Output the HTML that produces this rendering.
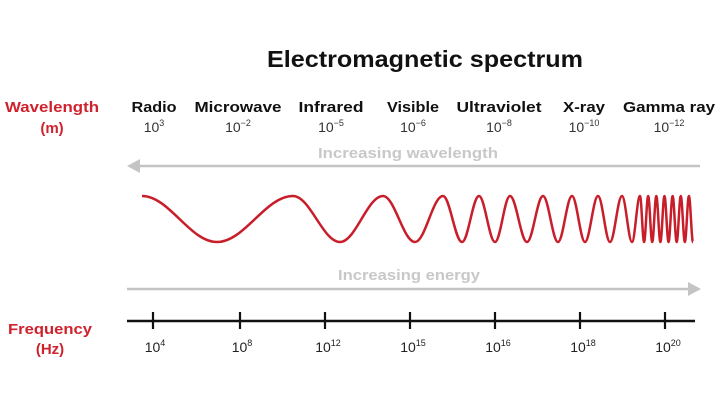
<!DOCTYPE html>
<html><head><meta charset="utf-8"><style>
html,body{margin:0;padding:0;background:#fff;}
svg{display:block;}
text{font-family:"Liberation Sans",sans-serif;}
</style></head><body>
<svg width="720" height="404" viewBox="0 0 720 404" xmlns="http://www.w3.org/2000/svg">
<rect width="720" height="404" fill="#fff"/>
<!-- Title -->
<text x="425" y="67" text-anchor="middle" font-size="23" font-weight="bold" fill="#111" textLength="316" lengthAdjust="spacingAndGlyphs">Electromagnetic spectrum</text>

<!-- Left labels -->
<g fill="#d0222d" font-weight="bold" font-size="15" text-anchor="middle">
<text x="52" y="112" textLength="94" lengthAdjust="spacingAndGlyphs">Wavelength</text>
<text x="52" y="133">(m)</text>
<text x="50" y="334" textLength="84" lengthAdjust="spacingAndGlyphs">Frequency</text>
<text x="50" y="354">(Hz)</text>
</g>

<!-- Band names -->
<g fill="#111" font-weight="bold" font-size="15" text-anchor="middle">
<text x="154" y="112" textLength="45" lengthAdjust="spacingAndGlyphs">Radio</text>
<text x="238" y="112" textLength="87" lengthAdjust="spacingAndGlyphs">Microwave</text>
<text x="331" y="112" textLength="65" lengthAdjust="spacingAndGlyphs">Infrared</text>
<text x="413" y="112" textLength="52" lengthAdjust="spacingAndGlyphs">Visible</text>
<text x="499" y="112" textLength="85" lengthAdjust="spacingAndGlyphs">Ultraviolet</text>
<text x="584" y="112" textLength="42" lengthAdjust="spacingAndGlyphs">X-ray</text>
<text x="669" y="112" textLength="92" lengthAdjust="spacingAndGlyphs">Gamma ray</text>
</g>

<!-- Wavelength exponents -->
<g fill="#333" font-size="14" text-anchor="middle">
<text x="154" y="132">10<tspan font-size="9" dy="-6">3</tspan></text>
<text x="238" y="132">10<tspan font-size="9" dy="-6">−2</tspan></text>
<text x="331" y="132">10<tspan font-size="9" dy="-6">−5</tspan></text>
<text x="413" y="132">10<tspan font-size="9" dy="-6">−6</tspan></text>
<text x="499" y="132">10<tspan font-size="9" dy="-6">−8</tspan></text>
<text x="584" y="132">10<tspan font-size="9" dy="-6">−10</tspan></text>
<text x="669" y="132">10<tspan font-size="9" dy="-6">−12</tspan></text>
</g>

<!-- Increasing wavelength arrow -->
<text x="408" y="158" text-anchor="middle" font-size="15" font-weight="bold" fill="#c8c8c8" textLength="180" lengthAdjust="spacingAndGlyphs">Increasing wavelength</text>
<line x1="136" y1="166" x2="700" y2="166" stroke="#c4c4c4" stroke-width="2.5"/>
<polygon points="127,166 140,159 140,173" fill="#c4c4c4"/>

<!-- Wave -->
<path fill="none" stroke="#c81e2a" stroke-width="2.5" stroke-linejoin="round" d="M142,196
C169.3,196 189.7,242 217,242
C244.6,242 265.4,196 293,196
C310.1,196 322.9,242 340,242
C355.6,242 367.4,196 383,196
C394.6,196 403.4,242 415,242
C425.2,242 432.8,196 443,196
C449.9,196 455.1,242 462,242
C468.2,242 472.8,196 479,196
C484.8,196 489.2,242 495,242
C500.5,242 504.5,196 510,196
C516.2,196 520.8,242 527,242
C532.8,242 537.2,196 543,196
C548.5,196 552.5,242 558,242
C563.1,242 566.9,196 572,196
C576.7,196 580.3,242 585,242
C589.7,242 593.3,196 598,196
C602.4,196 605.6,242 610,242
C614.4,242 617.6,196 622,196
C625.6,196 628.4,242 632,242
C634.9,242 637.1,196 640,196
C641.48,196 642.6,242 644.08,242
C645.56,242 646.67,196 648.15,196
C649.63,196 650.75,242 652.23,242
C653.71,242 654.83,196 656.31,196
C657.79,196 658.9,242 660.38,242
C661.86,242 662.98,196 664.46,196
C665.94,196 667.06,242 668.54,242
C670.02,242 671.14,196 672.62,196
C674.1,196 675.21,242 676.69,242
C678.17,242 679.29,196 680.77,196
C682.25,196 683.37,242 684.85,242
C686.33,242 687.44,196 688.92,196
C690.4,196 691.52,242 693,242"/>

<!-- Increasing energy arrow -->
<text x="409" y="280" text-anchor="middle" font-size="15" font-weight="bold" fill="#c8c8c8" textLength="142" lengthAdjust="spacingAndGlyphs">Increasing energy</text>
<line x1="127" y1="289" x2="690" y2="289" stroke="#c4c4c4" stroke-width="2.5"/>
<polygon points="701,289 688,282 688,296" fill="#c4c4c4"/>

<!-- Frequency axis -->
<line x1="127" y1="321" x2="695" y2="321" stroke="#111" stroke-width="2.5"/>
<g stroke="#111" stroke-width="2.2">
<line x1="153" y1="312" x2="153" y2="329"/>
<line x1="240" y1="312" x2="240" y2="329"/>
<line x1="325" y1="312" x2="325" y2="329"/>
<line x1="410" y1="312" x2="410" y2="329"/>
<line x1="495" y1="312" x2="495" y2="329"/>
<line x1="580" y1="312" x2="580" y2="329"/>
<line x1="665" y1="312" x2="665" y2="329"/>
</g>
<g fill="#222" font-size="14" text-anchor="middle">
<text x="155" y="352">10<tspan font-size="9" dy="-6">4</tspan></text>
<text x="242" y="352">10<tspan font-size="9" dy="-6">8</tspan></text>
<text x="328" y="352">10<tspan font-size="9" dy="-6">12</tspan></text>
<text x="413" y="352">10<tspan font-size="9" dy="-6">15</tspan></text>
<text x="498" y="352">10<tspan font-size="9" dy="-6">16</tspan></text>
<text x="583" y="352">10<tspan font-size="9" dy="-6">18</tspan></text>
<text x="668" y="352">10<tspan font-size="9" dy="-6">20</tspan></text>
</g>
</svg>
</body></html>
